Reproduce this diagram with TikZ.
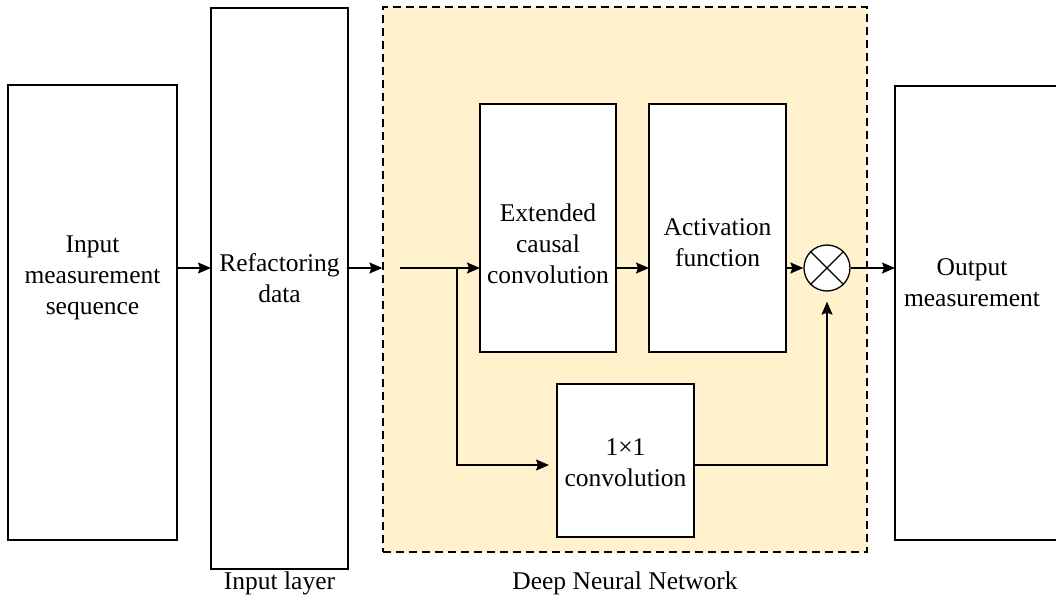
\documentclass[tikz,border=0pt]{standalone}
\usepackage{fontspec}
\setmainfont{Liberation Serif}
\usetikzlibrary{arrows.meta,calc}
\definecolor{dnnfill}{HTML}{FFF2CC}
\begin{document}
\begin{tikzpicture}[x=1pt,y=-1pt,
  box/.style={draw=black,line width=1.3pt,fill=white,rectangle,inner sep=0pt,outer sep=0pt},
  txt/.style={align=center,inner sep=0pt,font=\fontsize{25.5}{31}\selectfont},
  arr/.style={line width=1.3pt,-{Stealth[length=13pt,width=11pt,inset=2pt]}},
  ln/.style={line width=1.3pt}]
\useasboundingbox (0,0) rectangle (1056,599);
% dashed region
\node[draw=black,line width=1.3pt,dash pattern=on 8pt off 5pt,fill=dnnfill,inner sep=0pt,
  minimum width=484pt,minimum height=545pt] (dnn) at (625,279.5) {};
% boxes
\node[box,minimum width=169pt,minimum height=455pt] (inbox) at (92.5,312.5) {};
\node[box,minimum width=137pt,minimum height=561pt] (refbox) at (279.5,288.5) {};
\node[box,minimum width=136pt,minimum height=248pt] (ext) at (548,228) {};
\node[box,minimum width=137pt,minimum height=248pt] (act) at (717.5,228) {};
\node[box,minimum width=137pt,minimum height=153pt] (conv) at (625.5,460.5) {};
\node[box,minimum width=175pt,minimum height=454pt] (outbox) at (982.5,313) {};
\node[draw=black,line width=1.3pt,fill=white,circle,minimum size=46pt,inner sep=0pt] (mul) at (827,268) {};
\draw[ln] (mul.north east) -- (mul.south west);
\draw[ln] (mul.north west) -- (mul.south east);
% texts
\node[txt] (tin) at (92.5,278) {Input\\measurement\\sequence};
\node[txt] (tref) at (279.5,278) {Refactoring\\data};
\node[txt] (text) at (548,244) {Extended\\causal\\convolution};
\node[txt] (tact) at (717.5,243) {Activation\\function};
\node[txt] (tconv) at (625.5,463) {1×1\\convolution};
\node[txt] (tout) at (972,283) {Output\\measurement};
\node[txt] (lin) at (279.5,583) {Input layer};
\node[txt] (ldnn) at (625,583) {Deep Neural Network};
% connectors
\coordinate (m) at (0,268);
\coordinate (lo) at (0,465);
\coordinate (s) at (400,268);
\coordinate (br) at (457,268);
\draw[arr] (inbox.east |- m) -- (refbox.west |- m);
\draw[arr] (refbox.east |- m) -- (dnn.west |- m);
\draw[arr] (s) -- (ext.west |- m);
\draw[arr,shorten >=8pt] (br) |- (conv.west |- lo);
\draw[arr] (ext.east |- m) -- (act.west |- m);
\draw[arr] (act.east |- m) -- (mul.west);
\draw[arr] (mul.east) -- (outbox.west |- m);
\draw[arr,shorten >=10pt] (conv.east |- lo) -| (mul.south);
\end{tikzpicture}
\end{document}
